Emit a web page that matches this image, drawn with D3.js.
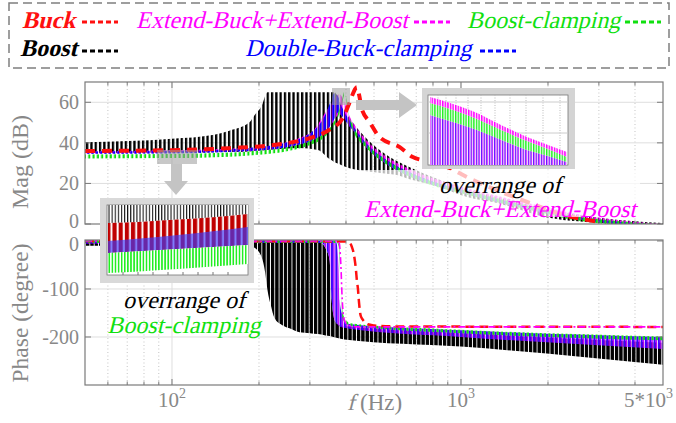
<!DOCTYPE html>
<html>
<head>
<meta charset="utf-8">
<script src="https://cdn.jsdelivr.net/npm/d3@7"></script>
<style>
  body { margin: 0; background: #fff; }
  svg { display: block; font-family: "Liberation Serif", "Times New Roman", serif; }
</style>
</head>
<body>
<div id="chart"></div>
<script>
// ---- axis ticks ----
const xMajor = [100, 1000];
const xMinor = [60, 70, 80, 90, 200, 300, 400, 500, 600, 700, 800, 900, 2000, 3000, 4000];
const xLabels = [
  { f: 100, base: '10', exp: '2' },
  { f: 1000, base: '10', exp: '3' },
  { f: 5000, base: '5*10', exp: '3' }
];
const magTicks = [0, 20, 40, 60];
const phaseTicks = [0, -100, -200];

// ---- magnitude (dB) ----
// Boost family (black): envelope of the curves
const boostMagF  = [50, 100, 140, 158, 185, 193, 204, 214, 276, 320, 351, 365, 380, 412, 472, 553, 600, 665, 800, 1049, 1366, 1602, 1881, 3040, 5000];
const boostMagHi = [40.3, 42, 44, 46, 50, 53.6, 58, 65, 65, 65, 65, 65, 60, 52, 42, 34, 31, 28, 23, 17, 13, 10.5, 8, 3, 0.5];
const boostMagLo = [35, 35.2, 35.4, 35.5, 35.8, 36, 36.2, 36.5, 37.5, 36.5, 32, 30.5, 29.5, 27.5, 26, 24.8, 24.1, 22, 19.2, 13.3, 10, 7, 4, 0.5, -1];

// Extend-Buck+Extend-Boost family (magenta)
const extMagF  = [50, 185, 299, 351, 380, 395, 412, 430, 472, 553, 665, 800, 1000, 1366, 1881, 2500, 3040, 5000];
const extMagHi = [35.8, 37.5, 44.5, 58, 64, 60, 53, 48.5, 41, 33, 27, 22.5, 18.5, 13.5, 9, 5, 3, 0];
const extMagLo = [34.6, 36, 40.5, 48, 54, 52, 48, 45, 37.5, 29.5, 23.5, 19.2, 15.5, 10.5, 6, 2.5, 0.8, -1.5];

// Double-Buck-clamping family (blue)
const dbcMagF  = [50, 100, 158, 185, 255, 299, 324, 337, 351, 365, 375, 389, 412, 430, 472, 553, 665, 800, 1000, 1366, 1881, 2500, 3040, 5000];
const dbcMagHi = [35.8, 36, 36.8, 37.5, 40.5, 44.5, 49, 53, 59, 64.5, 63, 57, 51, 47, 39.5, 31.5, 25.5, 21, 17, 12, 7.5, 3.5, 2, -0.5];
const dbcMagLo = [34.6, 34.8, 35.5, 36, 38, 40.5, 43, 45, 48, 52, 55, 53, 48, 45, 37.5, 29.5, 23.5, 19.2, 15.5, 10.5, 6, 2.5, 0.8, -1.5];

// Boost-clamping family (green)
const bcMagF  = [50, 100, 158, 185, 255, 299, 337, 365, 380, 389, 395, 405, 412, 422, 472, 553, 665, 800, 1000, 1366, 1881, 2500, 3040, 5000];
const bcMagHi = [34.3, 34.5, 35.2, 35.8, 38.1, 40.8, 44.8, 50.8, 56.8, 62.3, 65.3, 58.8, 52.8, 48.8, 39.3, 31.3, 25.3, 20.8, 17.1, 12.3, 7.8, 3.8, 2.3, -0.2];
const bcMagLo = [32.3, 32.5, 33.2, 33.8, 36.1, 38.8, 42.8, 48.8, 54.8, 60.3, 63.3, 56.8, 50.8, 46.3, 37.3, 29.3, 23.3, 18.8, 15.1, 10.3, 5.8, 1.8, 0.3, -2.2];

// Buck (red dashed)
const buckMagF = [50, 100, 158, 235, 299, 351, 389, 412, 425, 436, 445, 453, 483, 523, 614, 681, 800, 916, 1049, 1366, 1881, 2200, 3040];
const buckMag  = [36, 36.4, 37.4, 39.3, 42.3, 46.5, 52, 60, 65, 67.4, 63, 57, 50.2, 42.8, 37.9, 33, 30.5, 27.5, 23.1, 16, 8.5, 5, 1];

// ---- phase (degree) ----
const boostPhF  = [50, 185, 193, 204, 210, 214, 220, 226, 240, 255, 276, 300, 320, 329, 340, 351, 357, 362, 368, 380, 395, 1000, 5000];
const boostPhHi = [1, 1, 1, 1, 1, 1, 1, 1, 1, 1, 1, 1, 0, -4, -15, -40, -123, -155, -169, -175, -177, -192, -212];
const boostPhLo = [-10, -10, -14, -33, -65, -102, -135, -160, -175, -182, -190, -192, -194, -195, -197, -198, -199, -200, -201, -203, -205, -220, -258];

const dbcPhF  = [50, 329, 340, 351, 357, 362, 368, 371, 374, 377, 380, 389, 395, 412, 1000, 5000];
const dbcPhHi = [1, 1, 1, 1, 1, 1, 0, -4, -20, -60, -123, -155, -165, -173, -186, -200];
const dbcPhLo = [-6, -4, -15, -40, -123, -155, -169, -172, -174, -176, -178, -180, -181, -183, -200, -225];

const bcPhF  = [50, 371, 377, 380, 383, 386, 392, 400, 420, 1000, 5000];
const bcPhHi = [1, 1, -4, -20, -60, -123, -155, -165, -172, -185, -199];
const bcPhLo = [-4, -4, -10, -40, -100, -150, -165, -172, -177, -192, -207];

const extPhF = [50, 377, 380, 384, 388, 392, 398, 410, 440, 5000];
const extPh  = [0, 0, -8, -50, -120, -155, -170, -176, -179, -179];

const buckPhF = [50, 395, 412, 419, 425, 429, 433, 436, 440, 443, 449, 456, 464, 475, 489, 523, 600, 5000];
const buckPh  = [0, -1, -4, -12, -25, -40, -60, -81, -100, -123, -154, -163, -169, -173, -175, -177, -178, -179];

// ---- zoomed insets ----
// magnitude near the resonance (Hz, dB)
const zoomAF      = [382, 405, 429, 449, 479, 500, 519];
const zoomAExtHi  = [66.8, 66.1, 65.2, 64.2, 62.8, 62.0, 61.3];
const zoomABcHi   = [66.2, 65.5, 64.6, 63.7, 62.4, 61.6, 60.8];
const zoomABcLo   = [65.0, 64.3, 63.5, 62.7, 61.5, 60.9, 60.3];
const zoomAGridF  = [390, 398, 408, 420, 433, 447, 462, 478, 495, 512];
const zoomAGridDb = [63.2, 66.3];

// magnitude at low frequency (sample index, dB)
const zoomBX      = [0, 7, 14, 21, 28];
const zoomBBuckHi = [36.97, 37.05, 37.17, 37.3, 37.49];
const zoomBDbcHi  = [35.94, 36.1, 36.29, 36.5, 36.74];
const zoomBBcHi   = [35.26, 35.37, 35.49, 35.6, 35.71];
const zoomBBcLo   = [34.11, 34.22, 34.34, 34.48, 34.63];
const zoomBGridX  = [3, 6, 9, 12, 15, 18, 21, 24];

const C = { red: '#ff1010', magenta: '#ff00ff', green: '#10e010', blue: '#0000ff', black: '#000', grey: '#888' };

const W = 676, H = 423;
const svg = d3.select('#chart').append('svg').attr('width', W).attr('height', H);
const defs = svg.append('defs');

// vertical stripe patterns imitate the dense dotted families
function stripes(id, period, bars, bg) {
  const p = defs.append('pattern').attr('id', id)
    .attr('patternUnits', 'userSpaceOnUse')
    .attr('width', period).attr('height', 20);
  if (bg) p.append('rect').attr('width', period).attr('height', 20).attr('fill', bg);
  bars.forEach(b => p.append('rect').attr('x', b[0]).attr('y', 0)
    .attr('width', b[1]).attr('height', 20).attr('fill', b[2]));
}
stripes('pBlack', 4.3, [[0, 2.3, '#000']]);
stripes('pBlackDense', 4.3, [[0, 3.4, '#000']]);
stripes('pBlue', 4.3, [[1.2, 2.2, C.blue]]);
stripes('pPurple', 4.3, [[0, 2.2, '#3a00ff'], [2.2, 1.4, '#c000ff']]);
stripes('pGreen', 4.3, [[2.2, 2.2, C.green]]);
stripes('pMagenta', 4.3, [[0.6, 2.4, C.magenta]]);
stripes('pZGreen', 2.6, [[0, 1.4, '#22ee22']], '#fff');
stripes('pZMagenta', 2.6, [[0, 1.5, C.magenta]], '#fff');
stripes('pZPurple', 2.6, [[0, 0.9, '#5a1aff'], [0.9, 0.9, '#e040ff']], '#fff');
stripes('pZRed', 6.2, [[0.8, 4.2, '#c00000']]);
stripes('pZBlack', 3.1, [[0, 1.1, '#111']], '#fff');
stripes('pZGreenB', 3.1, [[0, 1.6, '#22ee22']], '#fff');

const x = d3.scaleLog().domain([50, 5000]).range([85, 663]);
const yMag = d3.scaleLinear().domain([0, 70]).range([224, 82]);
const yPh = d3.scaleLinear().domain([-300, 2]).range([385, 240]);

const zip = (f, lo, hi) => f.map((v, i) => ({ f: v, lo: lo[i], hi: hi[i] }));
const pts = (f, v) => f.map((d, i) => ({ f: d, v: v[i] }));

// slanted serif text (Times-like italic)
function slanted(parent, tx, ty, str, size, color, opts = {}) {
  return parent.append('text')
    .attr('transform', `translate(${tx},${ty}) skewX(-14)`)
    .attr('font-size', size).attr('fill', color)
    .attr('font-weight', opts.bold ? 'bold' : 'normal')
    .attr('text-anchor', opts.anchor || 'start')
    .text(str);
}

function panel(y, ticks, name) {
  const [y0, y1] = y.range();
  const [x0, x1] = x.range();
  const g = svg.append('g');
  defs.append('clipPath').attr('id', 'clip-' + name)
    .append('rect').attr('x', x0).attr('y', y1).attr('width', x1 - x0).attr('height', y0 - y1);
  g.selectAll('.minor').data(xMinor).join('line')
    .attr('x1', d => x(d)).attr('x2', d => x(d)).attr('y1', y1).attr('y2', y0)
    .attr('stroke', '#c4c4c4').attr('stroke-dasharray', '1,2.5');
  g.selectAll('.major').data(xMajor).join('line')
    .attr('x1', d => x(d)).attr('x2', d => x(d)).attr('y1', y1).attr('y2', y0)
    .attr('stroke', '#dedede');
  g.selectAll('.hgrid').data(ticks).join('line')
    .attr('x1', x0).attr('x2', x1).attr('y1', d => y(d)).attr('y2', d => y(d))
    .attr('stroke', '#dedede');
  return svg.append('g').attr('clip-path', `url(#clip-${name})`);
}

function frame(y, ticks, labelDy) {
  const [y0, y1] = y.range();
  const [x0, x1] = x.range();
  const g = svg.append('g').attr('stroke', '#7a7a7a');
  g.append('rect').attr('x', x0).attr('y', y1).attr('width', x1 - x0).attr('height', y0 - y1)
    .attr('fill', 'none').attr('stroke-width', 1.2);
  const xt = xMinor.map(f => ({ f, len: 3.5 })).concat(xMajor.map(f => ({ f, len: 6 })));
  g.selectAll('.tb').data(xt).join('line')
    .attr('x1', d => x(d.f)).attr('x2', d => x(d.f)).attr('y1', y0).attr('y2', d => y0 - d.len);
  g.selectAll('.tt').data(xt).join('line')
    .attr('x1', d => x(d.f)).attr('x2', d => x(d.f)).attr('y1', y1).attr('y2', d => y1 + d.len);
  g.selectAll('.tl').data(ticks).join('line')
    .attr('x1', x0).attr('x2', x0 + 6).attr('y1', d => y(d)).attr('y2', d => y(d));
  g.selectAll('.tr').data(ticks).join('line')
    .attr('x1', x1).attr('x2', x1 - 6).attr('y1', d => y(d)).attr('y2', d => y(d));
  svg.append('g').selectAll('text').data(ticks).join('text')
    .attr('x', x0 - 6).attr('y', d => y(d) + labelDy(d))
    .attr('text-anchor', 'end').attr('font-size', 20).attr('fill', C.grey)
    .text(d => d);
}

function band(g, y, data, fill) {
  const area = d3.area().curve(d3.curveMonotoneX)
    .x(d => x(d.f)).y0(d => y(d.lo)).y1(d => y(d.hi));
  g.append('path').datum(data).attr('d', area).attr('fill', fill);
}

function line(g, y, data, color, width, dash) {
  const ln = d3.line().curve(d3.curveMonotoneX).x(d => x(d.f)).y(d => y(d.v));
  g.append('path').datum(data).attr('d', ln).attr('fill', 'none')
    .attr('stroke', color).attr('stroke-width', width).attr('stroke-dasharray', dash);
}

// ---- magnitude panel ----
const pm = panel(yMag, magTicks.slice(1), 'mag');
band(pm, yMag, zip(boostMagF, boostMagLo, boostMagHi), 'url(#pBlack)');
band(pm, yMag, zip(extMagF, extMagLo, extMagHi), 'url(#pMagenta)');
band(pm, yMag, zip(dbcMagF, dbcMagLo, dbcMagHi), 'url(#pBlue)');
band(pm, yMag, zip(bcMagF, bcMagLo, bcMagHi), 'url(#pGreen)');
line(pm, yMag, pts(buckMagF, buckMag), C.red, 4, '10,7');
frame(yMag, magTicks, d => d === 0 ? 4 : 7);

// ---- phase panel ----
const pp = panel(yPh, phaseTicks.slice(1), 'ph');
band(pp, yPh, zip(boostPhF, boostPhLo, boostPhHi), 'url(#pBlackDense)');
band(pp, yPh, zip(dbcPhF, dbcPhLo, dbcPhHi), 'url(#pPurple)');
band(pp, yPh, zip(bcPhF, bcPhLo, bcPhHi), 'url(#pGreen)');
line(pp, yPh, pts(buckPhF, buckPh), C.red, 2.5, '9,5');
line(pp, yPh, pts(extPhF, extPh), C.magenta, 1.6, '7,3,2,3');
frame(yPh, phaseTicks, d => d === 0 ? 10 : 7);

// ---- axis titles ----
const xl = svg.append('g').attr('font-size', 21).attr('fill', C.grey);
xLabels.forEach(d => {
  const t = xl.append('text').attr('y', 407);
  if (d.f === 5000) t.attr('x', 673).attr('text-anchor', 'end');
  else t.attr('x', x(d.f)).attr('text-anchor', 'middle');
  t.append('tspan').text(d.base);
  t.append('tspan').attr('font-size', 14).attr('dy', -9).text(d.exp);
});
slanted(svg, 347, 410, 'f', 23, C.grey);
svg.append('text').attr('x', 360).attr('y', 410).attr('font-size', 23).attr('fill', C.grey).text('(Hz)');
svg.append('text').attr('transform', 'translate(28,162) rotate(-90)')
  .attr('text-anchor', 'middle').attr('font-size', 24).attr('fill', C.grey).text('Mag (dB)');
svg.append('text').attr('transform', 'translate(28,313) rotate(-90)')
  .attr('text-anchor', 'middle').attr('font-size', 23.5).attr('fill', C.grey).text('Phase (degree)');

// ---- zoom marker A: resonance of magnitude ----
svg.append('rect').attr('x', 332).attr('y', 88).attr('width', 18).attr('height', 17)
  .attr('fill', '#9a9a9a').attr('opacity', 0.55);
svg.append('path').attr('d', 'M356,100 L399,100 L399,92 L417,105 L399,118 L399,110 L356,110 Z')
  .attr('fill', '#c4c4c4');
svg.append('rect').attr('x', 422).attr('y', 88).attr('width', 153).attr('height', 81).attr('fill', '#d4d4d4');
svg.append('rect').attr('x', 428).attr('y', 95).attr('width', 140).attr('height', 70)
  .attr('fill', '#fff').attr('stroke', '#777').attr('stroke-width', 0.8);

const zx = d3.scaleLinear().domain([380, 520]).range([428, 568]);
const zy = d3.scaleLinear().domain([60, 67]).range([165, 95]);
const zA = svg.append('g');
zA.selectAll('.g1').data(zoomAGridF).join('line')
  .attr('x1', d => zx(d)).attr('x2', d => zx(d)).attr('y1', 95).attr('y2', 165)
  .attr('stroke', '#bbb').attr('stroke-dasharray', '1,1.5');
zA.selectAll('.g2').data(zoomAGridDb).join('line')
  .attr('x1', 428).attr('x2', 568).attr('y1', d => zy(d)).attr('y2', d => zy(d))
  .attr('stroke', '#ccc');
const zArea = (lo, hi) => d3.area().curve(d3.curveMonotoneX)
  .x(d => zx(d)).y0((d, i) => zy(lo[i])).y1((d, i) => zy(hi[i]));
const floorA = zoomAF.map(() => 60);
zA.append('path').datum(zoomAF).attr('d', zArea(floorA, zoomABcLo)).attr('fill', 'url(#pZPurple)');
zA.append('path').datum(zoomAF).attr('d', zArea(zoomABcLo, zoomABcHi)).attr('fill', 'url(#pZGreen)');
zA.append('path').datum(zoomAF).attr('d', zArea(zoomABcHi, zoomAExtHi)).attr('fill', 'url(#pZMagenta)');

// ---- zoom marker B: low-frequency magnitude ----
svg.append('rect').attr('x', 157).attr('y', 150).attr('width', 40).attr('height', 14)
  .attr('fill', '#9a9a9a').attr('opacity', 0.55);
svg.append('path').attr('d', 'M171,164 L182,164 L182,181 L188,181 L176,195 L164,181 L171,181 Z')
  .attr('fill', '#c4c4c4');
svg.append('rect').attr('x', 100).attr('y', 198).attr('width', 154).attr('height', 85).attr('fill', '#d9d9d9');
svg.append('rect').attr('x', 107).attr('y', 205).attr('width', 141).attr('height', 70)
  .attr('fill', '#fff').attr('stroke', '#777').attr('stroke-width', 0.8);

const bx = d3.scaleLinear().domain([0, 28]).range([108, 248]);
const by = d3.scaleLinear().domain([34, 38]).range([275, 205]);
const bArea = (lo, hi) => d3.area().curve(d3.curveMonotoneX)
  .x(d => bx(d)).y0((d, i) => by(lo[i])).y1((d, i) => by(hi[i]));
const zB = svg.append('g');
const topB = zoomBX.map(() => 38);
zB.append('path').datum(zoomBX).attr('d', bArea(zoomBBuckHi, topB)).attr('fill', 'url(#pZBlack)');
zB.append('path').datum(zoomBX).attr('d', bArea(zoomBBcHi, zoomBBuckHi)).attr('fill', 'url(#pZRed)');
zB.append('path').datum(zoomBX).attr('d', bArea(zoomBBcHi, zoomBDbcHi)).attr('fill', '#3a3aff').attr('opacity', 0.65);
zB.append('path').datum(zoomBX).attr('d', bArea(zoomBBcLo, zoomBBcHi)).attr('fill', 'url(#pZGreenB)');
zB.selectAll('.gb').data(zoomBGridX).join('line')
  .attr('x1', d => bx(d)).attr('x2', d => bx(d)).attr('y1', 272).attr('y2', 275)
  .attr('stroke', '#777');

// ---- annotations ----
svg.append('rect').attr('x', 360).attr('y', 170).attr('width', 280).attr('height', 47)
  .attr('fill', '#fff').attr('opacity', 0.72);
const ann = svg.append('g');
slanted(ann, 500, 193, 'overrange of', 24, '#000', { anchor: 'middle' });
slanted(ann, 500, 217, 'Extend-Buck+Extend-Boost', 24, C.magenta, { anchor: 'middle' });
slanted(ann, 184, 308, 'overrange of', 24, '#000', { anchor: 'middle' });
slanted(ann, 184, 333, 'Boost-clamping', 24, C.green, { anchor: 'middle' });

// ---- legend ----
svg.append('rect').attr('x', 9).attr('y', 3).attr('width', 660).attr('height', 65)
  .attr('fill', 'none').attr('stroke', '#7f7f7f').attr('stroke-width', 1.5).attr('stroke-dasharray', '9,5');
const legend = [
  { name: 'Buck', color: C.red, bold: true, tx: 22, ty: 28, lx: 82, ly: 22 },
  { name: 'Extend-Buck+Extend-Boost', color: C.magenta, bold: false, tx: 136, ty: 28, lx: 414, ly: 22 },
  { name: 'Boost-clamping', color: C.green, bold: false, tx: 467, ty: 28, lx: 625, ly: 22 },
  { name: 'Boost', color: '#000', bold: true, tx: 20, ty: 56, lx: 82, ly: 51 },
  { name: 'Double-Buck-clamping', color: C.blue, bold: false, tx: 245, ty: 56, lx: 480, ly: 51 }
];
const lg = svg.append('g');
legend.forEach(d => slanted(lg, d.tx, d.ty, d.name, 24, d.color, { bold: d.bold }));
lg.selectAll('line').data(legend).join('line')
  .attr('x1', d => d.lx).attr('x2', d => d.lx + 36).attr('y1', d => d.ly).attr('y2', d => d.ly)
  .attr('stroke', d => d.color).attr('stroke-width', 3).attr('stroke-dasharray', '5,3');
</script>
</body>
</html>
